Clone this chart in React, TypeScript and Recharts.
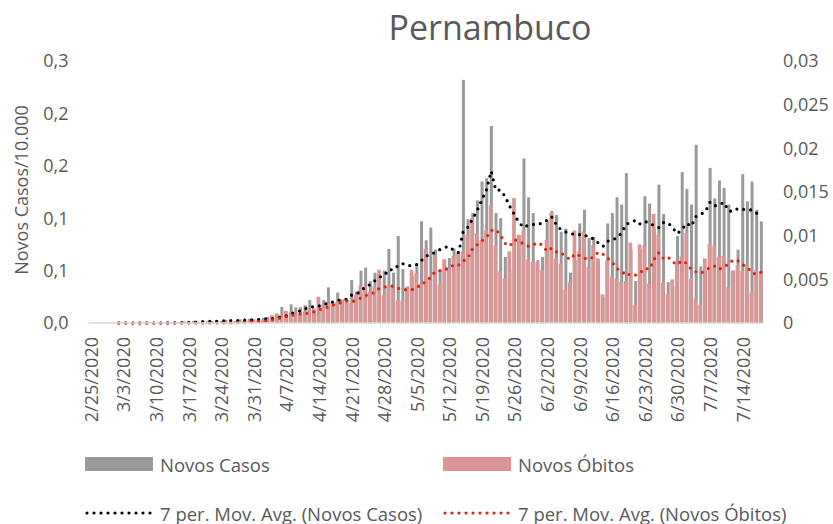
import { ComposedChart, Bar, Line, XAxis, YAxis } from 'recharts'

// Pernambuco, daily values per 10.000 inhabitants, 2/25/2020 .. 7/18/2020
const START_DAY = Date.UTC(2020, 1, 25)
const DAY_COUNT = 145

const novosCasos = [
  0, 0, 0, 0, 0, 0, 0, 0, 0, 0, 0, 0, 0, 0, 0, 0,
  0.0004, 0, 0.0006, 0.001, 0.0015, 0.0008, 0.002, 0.0012, 0.0018, 0.0015,
  0.002, 0.0025, 0.002, 0.003, 0.0025, 0.002, 0.0035, 0.003, 0.004, 0.0035,
  0.0045, 0.005, 0.0057, 0.004, 0.006, 0.0153, 0.008, 0.0178, 0.015, 0.015,
  0.017, 0.022, 0.012, 0.015, 0.022, 0.034, 0.018, 0.029, 0.022, 0.02,
  0.041, 0.03, 0.05, 0.053, 0.04, 0.048, 0.045, 0.05, 0.0706, 0.048,
  0.083, 0.0515, 0.035, 0.045, 0.057, 0.097, 0.079, 0.091, 0.07, 0.0515,
  0.06, 0.062, 0.071, 0.065, 0.232, 0.099, 0.105, 0.117, 0.135, 0.138,
  0.188, 0.105, 0.1, 0.063, 0.05, 0.08, 0.084, 0.157, 0.12, 0.105,
  0.06, 0.063, 0.098, 0.107, 0.103, 0.087, 0.09, 0.048, 0.06, 0.095,
  0.108, 0.081, 0.082, 0.06, 0.025, 0.095, 0.105, 0.12, 0.113, 0.143,
  0.07, 0.04, 0.07, 0.121, 0.114, 0.09, 0.132, 0.104, 0.039, 0.035,
  0.083, 0.144, 0.128, 0.113, 0.17, 0.054, 0.05, 0.148, 0.119, 0.136,
  0.129, 0.113, 0.05, 0.07, 0.142, 0.116, 0.135, 0.108, 0.097,
]

const novosObitos = [
  0, 0, 0, 0, 0, 0, 0, 0, 0, 0, 0, 0, 0, 0, 0, 0,
  0, 0, 0, 0, 0, 0, 0, 0, 0, 0, 0, 0, 0, 0.0001,
  0, 0.0002, 0.0001, 0.0002, 0.0002, 0.0003, 0.0003, 0.0003, 0.0005, 0.0009,
  0.0011, 0.0007, 0.0014, 0.0012, 0.0009, 0.001, 0.0013, 0.0015, 0.0017, 0.003,
  0.0021, 0.0023, 0.0024, 0.0024, 0.0027, 0.0028, 0.0023, 0.0032, 0.0043, 0.0042,
  0.0036, 0.0042, 0.0061, 0.0032, 0.0041, 0.004, 0.0026, 0.0026, 0.0041, 0.0061,
  0.0057, 0.0045, 0.0085, 0.0049, 0.0078, 0.0044, 0.0073, 0.0063, 0.0077, 0.008,
  0.0082, 0.0101, 0.012, 0.0103, 0.0095, 0.0106, 0.0135, 0.0089, 0.0059, 0.0051,
  0.0082, 0.0143, 0.0101, 0.0106, 0.0073, 0.007, 0.007, 0.0061, 0.0095, 0.0126,
  0.0074, 0.0068, 0.0038, 0.0047, 0.0106, 0.0082, 0.0105, 0.0064, 0.0089, 0.0074,
  0.0033, 0.0072, 0.0053, 0.0051, 0.0047, 0.0048, 0.0092, 0.0021, 0.009, 0.0089,
  0.0045, 0.0125, 0.0101, 0.0046, 0.0033, 0.005, 0.0068, 0.0077, 0.0103, 0.0051,
  0.0028, 0.0021, 0.0074, 0.0091, 0.0088, 0.0076, 0.0077, 0.0041, 0.006, 0.0066,
  0.006, 0.0066, 0.0035, 0.0061, 0.0059,
]

const leftTicks = [0, 0.05, 0.1, 0.15, 0.2, 0.25]
const leftTickLabels = ['0,0', '0,1', '0,1', '0,2', '0,2', '0,3']
const rightTicks = [0, 0.005, 0.01, 0.015, 0.02, 0.025, 0.03]
const rightTickLabels = ['0', '0,005', '0,01', '0,015', '0,02', '0,025', '0,03']

const TEXT = '#595959'
const GRAY = '#9a9a9a'
const PINK = '#d99694'
const RED = '#dc2410'

const dates = Array.from({ length: DAY_COUNT }, (_, i) => {
  const d = new Date(START_DAY + i * 86400000)
  return `${d.getUTCMonth() + 1}/${d.getUTCDate()}/${d.getUTCFullYear()}`
})

// excel style 7 period trailing moving average
function movingAvg(values: number[], n: number) {
  return values.map((_, i) => {
    if (i < n - 1) return null
    let s = 0
    for (let j = i - n + 1; j <= i; j++) s += values[j]
    return s / n
  })
}

const maCasos = movingAvg(novosCasos, 7)
const maObitos = movingAvg(novosObitos, 7)

const data = dates.map((date, i) => ({
  date,
  casos: novosCasos[i],
  obitos: novosObitos[i],
  maCasos: maCasos[i],
  maObitos: maObitos[i],
}))

function DateTick({ x, y, payload }: any) {
  return (
    <text
      transform={`translate(${x},${y}) rotate(-90)`}
      textAnchor="end"
      dominantBaseline="central"
      fill={TEXT}
      fontSize={18}
    >
      {payload.value}
    </text>
  )
}

export default function App() {
  return (
    <div style={{ position: 'absolute', left: 0, top: 0, width: 833, height: 524, background: '#fff', fontFamily: '"Open Sans", sans-serif' }}>
      <ComposedChart
        width={833}
        height={524}
        data={data}
        margin={{ top: 61, right: 9.5, bottom: 101, left: 18.5 }}
      >
        <XAxis
          xAxisId="cat"
          dataKey="date"
          interval={6}
          height={100}
          tick={<DateTick />}
          tickLine={false}
          tickSize={0}
          tickMargin={14}
          axisLine={{ stroke: '#d9d9d9', strokeWidth: 1.5 }}
        />
        <XAxis xAxisId="cat2" dataKey="date" hide />
        <YAxis
          yAxisId="left"
          domain={[0, 0.25]}
          ticks={leftTicks}
          tickFormatter={(_v: number, i: number) => leftTickLabels[i]}
          width={70}
          axisLine={false}
          tickLine={false}
          tickSize={0}
          tickMargin={20}
          tick={{ fill: TEXT, fontSize: 18 }}
        />
        <YAxis
          yAxisId="right"
          orientation="right"
          domain={[0, 0.03]}
          ticks={rightTicks}
          tickFormatter={(_v: number, i: number) => rightTickLabels[i]}
          width={60}
          axisLine={false}
          tickLine={false}
          tickSize={0}
          tickMargin={19.5}
          tick={{ fill: TEXT, fontSize: 18 }}
        />
        <Bar xAxisId="cat" yAxisId="left" dataKey="casos" fill={GRAY} barSize={3} isAnimationActive={false} />
        <Bar xAxisId="cat2" yAxisId="right" dataKey="obitos" fill={PINK} barSize={3.7} isAnimationActive={false} />
        <Line
          xAxisId="cat"
          yAxisId="left"
          dataKey="maCasos"
          type="linear"
          stroke="#000"
          strokeWidth={3.2}
          strokeDasharray="0 7"
          strokeLinecap="round"
          dot={false}
          activeDot={false}
          isAnimationActive={false}
        />
        <Line
          xAxisId="cat"
          yAxisId="right"
          dataKey="maObitos"
          type="linear"
          stroke={RED}
          strokeWidth={3.2}
          strokeDasharray="0 7"
          strokeLinecap="round"
          dot={false}
          activeDot={false}
          isAnimationActive={false}
        />
      </ComposedChart>

      <svg width={833} height={524} style={{ position: 'absolute', left: 0, top: 0, pointerEvents: 'none' }}>
        <text x={490} y={27} textAnchor="middle" dominantBaseline="central" fill={TEXT} fontSize={34}>
          Pernambuco
        </text>
        <text transform="translate(21,190) rotate(-90)" textAnchor="middle" dominantBaseline="central" fill={TEXT} fontSize={18}>
          Novos Casos/10.000
        </text>

        <rect x={85} y={457} width={68} height={14} fill={GRAY} />
        <text x={160} y={464} dominantBaseline="central" fill={TEXT} fontSize={18.5}>Novos Casos</text>
        <rect x={443} y={457} width={68} height={14} fill={PINK} />
        <text x={518} y={464} dominantBaseline="central" fill={TEXT} fontSize={18.5}>Novos Óbitos</text>

        <line x1={87} x2={151} y1={513} y2={513} stroke="#000" strokeWidth={3.2} strokeDasharray="0 7" strokeLinecap="round" />
        <text x={160} y={513} dominantBaseline="central" fill={TEXT} fontSize={18.5}>7 per. Mov. Avg. (Novos Casos)</text>
        <line x1={445} x2={509} y1={513} y2={513} stroke={RED} strokeWidth={3.2} strokeDasharray="0 7" strokeLinecap="round" />
        <text x={518} y={513} dominantBaseline="central" fill={TEXT} fontSize={18.5}>7 per. Mov. Avg. (Novos Óbitos)</text>
      </svg>
    </div>
  )
}
